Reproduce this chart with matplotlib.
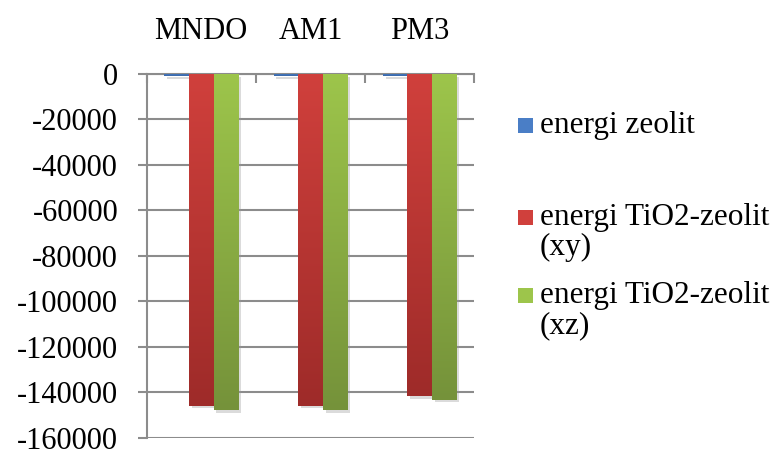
import numpy as np
import matplotlib
matplotlib.use('Agg')
import matplotlib.pyplot as plt
import matplotlib.patheffects as pe
from matplotlib.colors import LinearSegmentedColormap
from matplotlib.patches import Rectangle

# energies per semi-empirical method
methods = ['MNDO', 'AM1', 'PM3']
series_names = ['energi zeolit', 'energi TiO2-zeolit\n(xy)', 'energi TiO2-zeolit\n(xz)']
energi_zeolit = [-1000, -1000, -1000]
energi_tio2_xy = [-145800, -145800, -141500]
energi_tio2_xz = [-147700, -147700, -143200]
y_ticks = list(range(0, -160001, -20000))

# (top colour, bottom colour) of each series gradient
colors = [('#4a7ec6', '#3a68a8'), ('#d0403c', '#9e2b29'), ('#9dc54b', '#75923a')]

plt.rcParams['font.family'] = ['Liberation Serif', 'DejaVu Serif']
fig = plt.figure(figsize=(7.8, 4.51), dpi=100)
ax = fig.add_axes([0.188, 0.029, 0.42, 0.807])

grid_color = '#8c8c8c'
x = np.arange(len(methods))
width = 0.225
all_values = [energi_zeolit, energi_tio2_xy, energi_tio2_xz]

ax.set_xlim(-0.5, len(methods) - 0.5)
ax.set_ylim(-160000, 0)

grad = np.linspace(0, 1, 256).reshape(-1, 1)
for i, values in enumerate(all_values):
    top, bottom = colors[i]
    cmap = LinearSegmentedColormap.from_list('g%d' % i, [top, bottom])
    bars = ax.bar(x + (i - 1) * width, values, width, color=top, zorder=3,
                  linewidth=0,
                  path_effects=[pe.SimplePatchShadow(offset=(2, -2), shadow_rgbFace='#999999', alpha=0.35),
                                pe.Normal()])
    for b in bars:
        x0, y0 = b.get_x(), b.get_y()
        im = ax.imshow(grad, cmap=cmap, aspect='auto', zorder=4,
                       extent=[x0, x0 + b.get_width(), y0 + b.get_height(), y0])
        im.set_clip_path(b)

ax.set_xlim(-0.5, len(methods) - 0.5)
ax.set_ylim(-160000, 0)

# y axis
ax.set_yticks(y_ticks)
ax.set_yticklabels([str(v) for v in y_ticks], fontsize=22)
ax.yaxis.grid(True, color=grid_color, linewidth=1.5, zorder=1)
ax.tick_params(axis='y', direction='out', length=6.5, width=1.5, color=grid_color, pad=14)

# category axis on top, ticks between categories
ax.xaxis.tick_top()
ax.set_xticks(np.arange(-0.5, len(methods)))
ax.set_xticklabels([])
ax.set_xticks(x, minor=True)
ax.set_xticklabels(methods, minor=True, fontsize=22)
ax.tick_params(axis='x', which='major', direction='in', length=6.5, width=1.5, color=grid_color)
ax.tick_params(axis='x', which='minor', length=0, pad=20)

for side in ['right', 'bottom']:
    ax.spines[side].set_visible(False)
for side in ['left', 'top']:
    ax.spines[side].set_color(grid_color)
    ax.spines[side].set_linewidth(1.5)
ax.set_axisbelow(True)

# legend drawn beside the plot
legend_tops = [118, 210, 288]
for name, (top, bottom), ytop in zip(series_names, colors, legend_tops):
    fig.patches.append(Rectangle((518 / 780, 1 - (ytop + 15) / 451), 15 / 780, 15 / 451,
                                 transform=fig.transFigure, facecolor=top, edgecolor='none'))
    for k, line in enumerate(name.split('\n')):
        fig.text(540 / 780, 1 - (ytop + 15 + 30 * k) / 451, line, fontsize=22.5,
                 va='baseline', ha='left')

fig.savefig('out.png', dpi=100)
